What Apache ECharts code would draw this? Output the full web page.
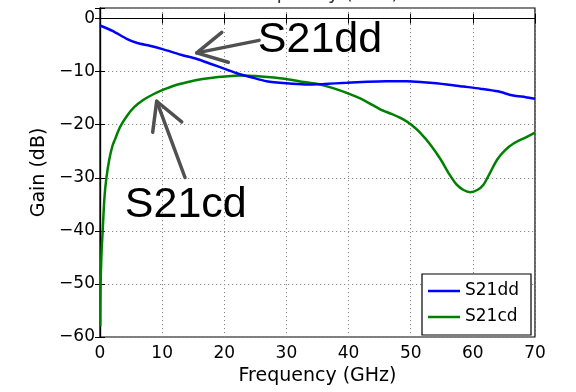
<!DOCTYPE html>
<html>
<head>
<meta charset="utf-8">
<script src="https://cdn.jsdelivr.net/npm/echarts@6/dist/echarts.min.js"></script>
<style>html,body{margin:0;padding:0;background:#fff}#c{width:576px;height:392px}</style>
</head>
<body>
<div id="c"></div>
<script>
var s21ddFreq = [0, 2, 4.3, 6, 8, 10.2, 13, 15.6, 18, 20.4, 22, 24.2, 26.8, 30, 33, 36, 39.7, 43, 46, 49.4, 52, 55.8, 58.5, 61.2, 64, 66.5, 68.5, 70];
var s21ddGain = [-1.3, -2.3, -3.8, -4.6, -5.1, -5.8, -6.8, -7.6, -8.6, -9.6, -10.3, -11.0, -11.8, -12.2, -12.4, -12.3, -12.1, -11.9, -11.8, -11.8, -12.0, -12.4, -12.8, -13.2, -13.7, -14.5, -14.8, -15.1];
var s21cdFreq = [0.05, 0.1, 0.25, 0.43, 0.7, 1.0, 1.5, 2.0, 2.4, 3.2, 4.3, 5.5, 7.0, 8.5, 10.2, 12, 14, 16.5, 19, 22.5, 25, 28, 30, 32, 35.4, 37.5, 39.7, 42.5, 45.1, 47, 48.8, 50.2, 51.5, 53.2, 54.8, 56.2, 57.4, 58.5, 59.6, 60.7, 61.7, 62.7, 63.9, 65.2, 66.6, 68.3, 70];
var s21cdGain = [-58, -50, -44, -40, -34, -30.3, -26.5, -24, -22.8, -20.5, -18.4, -16.7, -15.3, -14.3, -13.4, -12.6, -12.0, -11.4, -11.0, -10.7, -10.8, -11.1, -11.4, -11.8, -12.4, -13.1, -14.0, -15.4, -17.1, -18.0, -19.0, -20.1, -21.5, -23.8, -26.5, -29.3, -31.3, -32.3, -32.7, -32.3, -31.3, -29.2, -26.6, -24.8, -23.5, -22.5, -21.5];
var xTicks = [0, 10, 20, 30, 40, 50, 60, 70];
var yTicks = [-60, -50, -40, -30, -20, -10, 0];
var seriesNames = ['S21dd', 'S21cd'];
var xLabel = 'Frequency (GHz)';
var yLabel = 'Gain (dB)';
// annotations in data units: text anchor, arrow tail, head, two wings
var annDD = {text: 'S21dd', at: [25.4, -4.1], tail: [25.6, -4.1], head: [15.56, -6.46], w1: [19.6, -2.58], w2: [20.65, -8.23]};
var annCD = {text: 'S21cd', at: [4.0, -35.2], tail: [13.68, -29.94], head: [9.12, -15.57], w1: [8.48, -21.41], w2: [13.15, -19.45]};

function zip(a, b) { return a.map(function (v, i) { return [v, b[i]]; }); }
function fmtMinus(v) {
  if (yTicks.indexOf(v) < 0 && xTicks.indexOf(v) < 0) return '';
  return String(v).replace('-', '\u2212');
}
var tickFont = {fontFamily: 'DejaVu Sans', fontSize: 17, color: '#000'};
var chart = echarts.init(document.getElementById('c'), null, {renderer: 'canvas'});
var grid = {left: 100, right: 41, top: 8, bottom: 55, show: true, borderColor: '#000', borderWidth: 1.2, backgroundColor: 'transparent'};
var splitLine = {show: true, lineStyle: {color: '#888', width: 1, type: [1.2, 2.8]}};
chart.setOption({
  animation: false,
  grid: grid,
  xAxis: [{
    type: 'value', min: 0, max: 70, interval: 10, position: 'bottom',
    name: xLabel, nameLocation: 'middle', nameGap: 28,
    nameTextStyle: {fontFamily: 'DejaVu Sans', fontSize: 19, color: '#000'},
    axisLine: {show: true, lineStyle: {color: '#000', width: 1.2}},
    axisTick: {show: true, inside: true, length: 5, lineStyle: {color: '#000'}},
    axisLabel: Object.assign({margin: 8, formatter: fmtMinus}, tickFont),
    splitLine: splitLine
  }, {
    type: 'value', min: 0, max: 70, interval: 10, position: 'top',
    axisLine: {show: true, lineStyle: {color: '#000', width: 1.2}},
    axisTick: {show: true, inside: true, length: 5, lineStyle: {color: '#000'}},
    axisLabel: {show: false}, splitLine: {show: false}
  }],
  yAxis: [{
    type: 'value', min: -60, max: 2, interval: 10, position: 'left',
    name: yLabel, nameLocation: 'middle', nameGap: 50,
    nameTextStyle: {fontFamily: 'DejaVu Sans', fontSize: 19, color: '#000'},
    axisLine: {show: true, lineStyle: {color: '#000', width: 1.2}},
    axisTick: {show: true, inside: true, length: 5, lineStyle: {color: '#000'}},
    axisLabel: Object.assign({margin: 5, formatter: fmtMinus}, tickFont),
    splitLine: splitLine
  }, {
    type: 'value', min: -60, max: 2, interval: 10, position: 'right',
    axisLine: {show: true, lineStyle: {color: '#000', width: 1.2}},
    axisTick: {show: true, inside: true, length: 5, lineStyle: {color: '#000'}},
    axisLabel: {show: false}, splitLine: {show: false}
  }],
  legend: {
    data: seriesNames, orient: 'vertical', left: 422, top: 274,
    backgroundColor: '#fff', borderColor: '#000', borderWidth: 1.2,
    padding: [7, 12, 8, 6], itemWidth: 32, itemHeight: 2.5, itemGap: 6, icon: 'rect',
    textStyle: {fontFamily: 'DejaVu Sans', fontSize: 17, color: '#000', lineHeight: 20}
  },
  series: [{
    name: seriesNames[0], type: 'line', data: zip(s21ddFreq, s21ddGain),
    symbol: 'none', smooth: 0.25,
    lineStyle: {color: '#0000ff', width: 2.5}, itemStyle: {color: '#0000ff'}, z: 3
  }, {
    name: seriesNames[1], type: 'line', data: zip(s21cdFreq, s21cdGain),
    symbol: 'none', smooth: 0.25,
    lineStyle: {color: '#008000', width: 2.5}, itemStyle: {color: '#008000'}, z: 2
  }]
});

function px(p) { return chart.convertToPixel({gridIndex: 0}, p); }
function annGraphics(a) {
  var t = px(a.tail), h = px(a.head), w1 = px(a.w1), w2 = px(a.w2), at = px(a.at);
  var ls = {stroke: '#505050', lineWidth: 3.5, lineCap: 'round', lineJoin: 'round', fill: null};
  return [
    {type: 'polyline', shape: {points: [t, h]}, style: ls, z: 10},
    {type: 'polyline', shape: {points: [w1, h, w2]}, style: ls, z: 10},
    {type: 'text', x: at[0], y: at[1], z: 10,
     style: {text: a.text, fontFamily: 'Liberation Sans', fontSize: 43, fill: '#000', align: 'left', verticalAlign: 'middle'}}
  ];
}
var g = annGraphics(annDD).concat(annGraphics(annCD));
g.push({type: 'text', x: 320, y: -6, z: 10,
  style: {text: xLabel, fontFamily: 'DejaVu Sans', fontSize: 19, fill: '#333', align: 'center', verticalAlign: 'middle'}});
chart.setOption({graphic: g});
</script>
</body>
</html>
